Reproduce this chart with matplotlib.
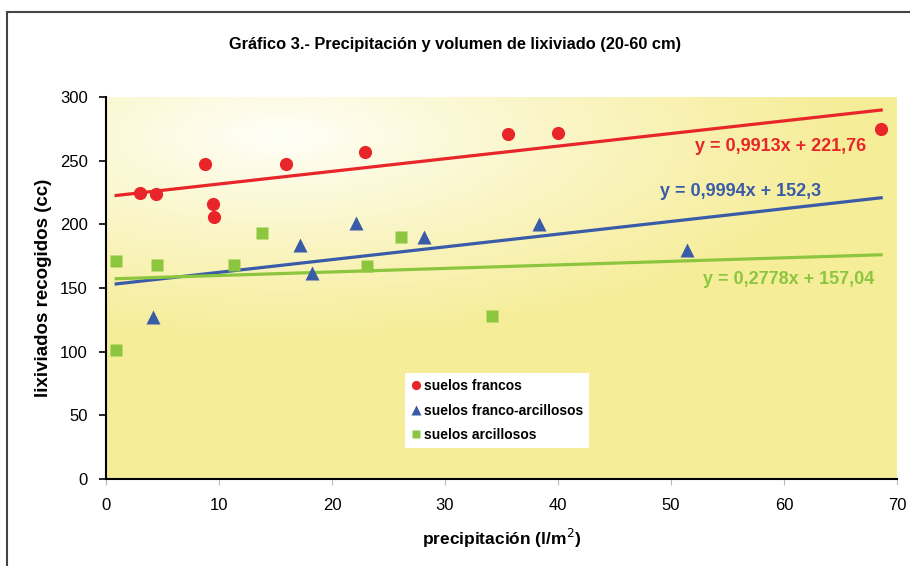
import numpy as np
import matplotlib
matplotlib.use("Agg")
import matplotlib.pyplot as plt
from matplotlib.patches import Rectangle

# Data
francos_x = [3.0, 4.4, 8.8, 9.5, 9.6, 15.9, 22.9, 35.6, 40.0, 68.6]
francos_y = [225, 224, 247, 216, 206, 247, 257, 271, 272, 275]

franco_arc_x = [4.2, 17.2, 18.2, 22.1, 28.1, 38.3, 51.4]
franco_arc_y = [127, 184, 162, 201, 190, 200, 180]

arcillosos_x = [0.9, 0.9, 4.5, 11.3, 13.8, 23.1, 26.1, 34.2]
arcillosos_y = [171, 101, 168, 168, 193, 167, 190, 128]

slopes = [0.9913, 0.9994, 0.2778]
intercepts = [221.76, 152.3, 157.04]
equations = ["y = 0,9913x + 221,76", "y = 0,9994x + 152,3", "y = 0,2778x + 157,04"]
labels = ["suelos francos", "suelos franco-arcillosos", "suelos arcillosos"]

RED = "#e8262a"
BLUE = "#3a5ba8"
GREEN = "#8cc63f"
SANS = ["Liberation Sans", "DejaVu Sans"]

fig = plt.figure(figsize=(9.10, 5.66), dpi=100)
ax = fig.add_axes([106 / 910, 1 - 479 / 566, 791 / 910, 382 / 566])

# gradient background: white in the upper left, yellow to the bottom and right
u, v = np.meshgrid(np.linspace(0, 1, 300), np.linspace(1, 0, 200))
d = np.sqrt(((u - 0.22) / 1.0) ** 2 + ((v - 0.9) / 0.75) ** 2)
t = np.clip(d * 1.4, 0, 1) ** 0.9
white = np.array([1.0, 1.0, 0.98])
yellow = np.array([0.965, 0.93, 0.6])
img = white[None, None, :] * (1 - t[..., None]) + yellow[None, None, :] * t[..., None]
ax.imshow(img, extent=[0, 1, 0, 1], transform=ax.transAxes, aspect="auto", zorder=0)

series = [
    (francos_x, francos_y, RED, "o", 9.5),
    (franco_arc_x, franco_arc_y, BLUE, "^", 9.5),
    (arcillosos_x, arcillosos_y, GREEN, "s", 8),
]
all_x = francos_x + franco_arc_x + arcillosos_x
xline = np.array([min(all_x), max(all_x)])

handles = []
for (xs, ys, c, m, ms), k, b, lab in zip(series, slopes, intercepts, labels):
    ax.plot(xline, k * xline + b, color=c, lw=2.3, zorder=2)
    h, = ax.plot(xs, ys, ls="none", marker=m, ms=ms, color=c, mec="none", zorder=3, label=lab)
    handles.append(h)

ax.text(67.3, 261, equations[0], color=RED, fontsize=13, fontweight="bold", ha="right", va="center", family=SANS)
ax.text(63.3, 226, equations[1], color=BLUE, fontsize=13, fontweight="bold", ha="right", va="center", family=SANS)
ax.text(68.0, 157, equations[2], color=GREEN, fontsize=13, fontweight="bold", ha="right", va="center", family=SANS)

ax.set_xlim(0, 70)
ax.set_ylim(0, 300)
ax.set_xticks(range(0, 71, 10))
ax.set_yticks(range(0, 301, 50))
for s in ["top", "right"]:
    ax.spines[s].set_visible(False)
for s in ["left", "bottom"]:
    ax.spines[s].set_linewidth(1.5)
ax.tick_params(axis="y", direction="out", length=5, width=1.2, labelsize=12, pad=8)
ax.tick_params(axis="x", direction="out", length=4, width=0.8, color="#bbbbbb", labelsize=12, pad=10)
for lbl in ax.get_xticklabels() + ax.get_yticklabels():
    lbl.set_family(SANS)

ax.set_xlabel("precipitación (l/m$^2$)", fontsize=12.5, fontweight="bold", family=SANS, labelpad=10)
ax.set_ylabel("lixiviados recogidos (cc)", fontsize=13.5, fontweight="bold", family=SANS, labelpad=6)

fig.text(0.5, 1 - 45 / 566, "Gráfico 3.- Precipitación y volumen de lixiviado (20-60 cm)",
         ha="center", va="center", fontsize=11.8, fontweight="bold", family=SANS)

leg = fig.legend(handles=handles, loc="upper left", bbox_to_anchor=(405 / 910, 1 - 373 / 566),
                 frameon=True, fancybox=False, framealpha=1, edgecolor="none",
                 prop={"family": SANS, "weight": "bold", "size": 10},
                 markerscale=0.7, handlelength=0.7, handletextpad=0.2, labelspacing=0.75,
                 borderpad=0.45, borderaxespad=0)

fig.patches.append(Rectangle((7 / 910, -0.1), 1.2, 1.1 - 12 / 566, transform=fig.transFigure,
                             fill=False, edgecolor="#444444", lw=1.5))

fig.savefig("out.png", dpi=100)
